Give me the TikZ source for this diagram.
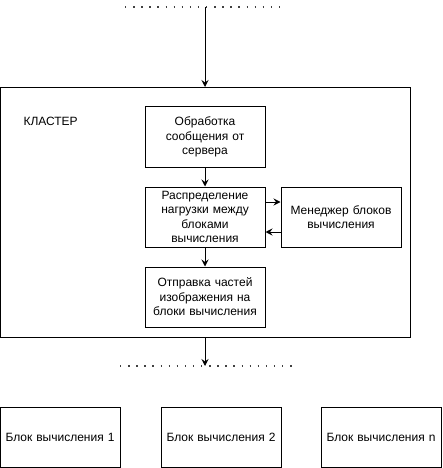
\documentclass[tikz,border=0pt]{standalone}
\usepackage{fontspec}
\setmainfont{Liberation Sans}
\usetikzlibrary{arrows.meta}
\begin{document}
\begin{tikzpicture}[x=1pt,y=-1pt,
  font=\fontsize{12}{14.5}\selectfont,
  box/.style={draw,line width=1pt,minimum width=120pt,minimum height=60pt,align=center,inner sep=2pt,text width=116pt},
  arr/.style={line width=1pt,-{Stealth[length=7pt,width=7pt,inset=2.5pt]}},
  dots/.style={line width=1.4pt,black!75,dash pattern=on 1.4pt off 6.7pt}]
\useasboundingbox (0,0) rectangle (442,468);
\coordinate (t1) at (125,7);
\coordinate (t2) at (282,7);
\coordinate (tm) at (205,7);
\draw[dots] (t1) -- (t2);
\node[draw,line width=1pt,minimum width=410pt,minimum height=250pt,anchor=north west,inner sep=0pt] (cl) at (0,87) {};
\node[anchor=west] (lbl) at (20,121) {КЛАСТЕР};
\node[box] (b1) at (205,137) {Обработка\\сообщения от\\сервера};
\node[box] (b2) at (205,217) {Распределение\\нагрузки между\\блоками\\вычисления};
\node[box] (mg) at (341,217) {Менеджер блоков\\вычисления};
\node[box] (b3) at (205,297) {Отправка частей\\изображения на\\блоки вычисления};
\coordinate (d1) at (120,366);
\coordinate (d2) at (292,366);
\coordinate (dm) at (205,366);
\draw[dots] (d1) -- (d2);
\node[box] (c1) at (60,437) {Блок вычисления 1};
\node[box] (c2) at (221,437) {Блок вычисления 2};
\node[box] (c3) at (381,437) {Блок вычисления n};
\draw[arr] (tm) -- (cl.north -| tm);
\draw[arr] (b1) -- (b2);
\draw[arr] (b2) -- (b3);
\draw[arr] ([yshift=15pt]b2.east) -- ([yshift=15pt]mg.west);
\draw[arr] ([yshift=-15pt]mg.west) -- ([yshift=-15pt]b2.east);
\draw[arr] (cl.south -| dm) -- (dm);
\end{tikzpicture}
\end{document}
